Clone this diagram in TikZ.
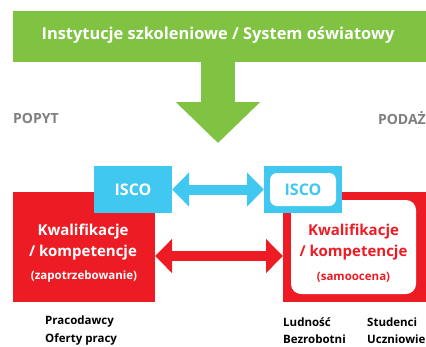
\documentclass[tikz,border=0pt]{standalone}
\usepackage{fontspec}
\setmainfont{Open Sans}
\usetikzlibrary{arrows.meta}
\definecolor{cgreen}{HTML}{80C242}
\definecolor{ccyan}{HTML}{40C8F0}
\definecolor{cred}{HTML}{ED1C24}
\definecolor{cgray}{HTML}{7F7F7F}
\tikzset{
  boxbase/.style={inner sep=0pt, outer sep=0pt, anchor=north west},
  greenbar/.style={boxbase, fill=cgreen},
  cyanbox/.style={boxbase, fill=ccyan},
  redbox/.style={boxbase, fill=cred},
  whitein/.style={fill=white, rounded corners=#1, inner sep=0pt, outer sep=0pt, anchor=north west},
  lbl/.style={inner sep=0pt, font=\bfseries, align=center},
  bluearrow/.style={draw=ccyan, line width=10pt, {Triangle[length=17pt,width=33pt]}-{Triangle[length=17pt,width=33pt]}},
  redarrow/.style={draw=cred, line width=10pt, {Triangle[length=17pt,width=33pt]}-{Triangle[length=17pt,width=33pt]}},
  greenarrow/.style={draw=cgreen, line width=34pt, -{Triangle[length=41pt,width=82pt]}},
}
\begin{document}
\begin{tikzpicture}[x=1pt,y=-1pt]
\useasboundingbox (0,0) rectangle (426,346);
% top bar
\node[greenbar, minimum width=413pt, minimum height=51pt] (bar) at (13,11) {};
\node[lbl, text=white, font=\bfseries\fontsize{16.4}{19}\selectfont] (title) at (218,35) {Instytucje szkoleniowe / System oświatowy};
\coordinate (gtip) at (218,143);
\draw[greenarrow] (bar.south -| gtip) -- (gtip);
% side labels
\node[lbl, text=cgray, font=\bfseries\fontsize{14}{16}\selectfont, anchor=west] (popyt) at (13,118) {POPYT};
\node[lbl, text=cgray, font=\bfseries\fontsize{14}{16}\selectfont, anchor=east] (podaz) at (426,118) {PODAŻ};
% red boxes
\node[redbox, minimum width=142pt, minimum height=110pt] (lred) at (13,192) {};
\node[redbox, minimum width=143pt, minimum height=110pt] (rred) at (283,192) {};
\node[whitein=10pt, minimum width=125pt, minimum height=94pt] (rwhite) at (291,200) {};
% cyan boxes
\node[cyanbox, minimum width=78pt, minimum height=47pt] (lisco) at (94,166) {};
\node[cyanbox, minimum width=78pt, minimum height=47pt] (risco) at (264,166) {};
\node[whitein=7pt, minimum width=66pt, minimum height=33pt] (riscow) at (270,173) {};
\node[lbl, text=white, font=\bfseries\fontsize{16}{18}\selectfont] at (lisco.center) {ISCO};
\node[lbl, text=ccyan, font=\bfseries\fontsize{16}{18}\selectfont] at (riscow.center) {ISCO};
% red box texts
\node[lbl, text=white, font=\bfseries\fontsize{15}{18}\selectfont] at (83,232) {Kwalifikacje};
\node[lbl, text=white, font=\bfseries\fontsize{15}{18}\selectfont] at (83,253) {/ kompetencje};
\node[lbl, text=white, font=\bfseries\fontsize{11.5}{14}\selectfont] at (84,277) {(zapotrzebowanie)};
\node[lbl, text=cred, font=\bfseries\fontsize{15}{18}\selectfont] at (353.5,232) {Kwalifikacje};
\node[lbl, text=cred, font=\bfseries\fontsize{15}{18}\selectfont] at (353.5,253) {/ kompetencje};
\node[lbl, text=cred, font=\bfseries\fontsize{11.5}{14}\selectfont] at (353.5,277) {(samoocena)};
% arrows
\draw[bluearrow] (lisco.east) -- (risco.west);
\draw[redarrow] ([yshift=-9pt]lred.east) -- ([yshift=-9pt]rred.west);
% bottom labels
\tikzset{btm/.style={lbl, anchor=west, text=black, font=\bfseries\fontsize{11.5}{14}\selectfont}}
\node[btm] at (45,322) {Pracodawcy};
\node[btm] at (45,339) {Oferty pracy};
\node[btm] at (283,322) {Ludność};
\node[btm] at (283,339) {Bezrobotni};
\node[btm] at (367,322) {Studenci};
\node[btm] at (367,339) {Uczniowie};
\end{tikzpicture}
\end{document}
